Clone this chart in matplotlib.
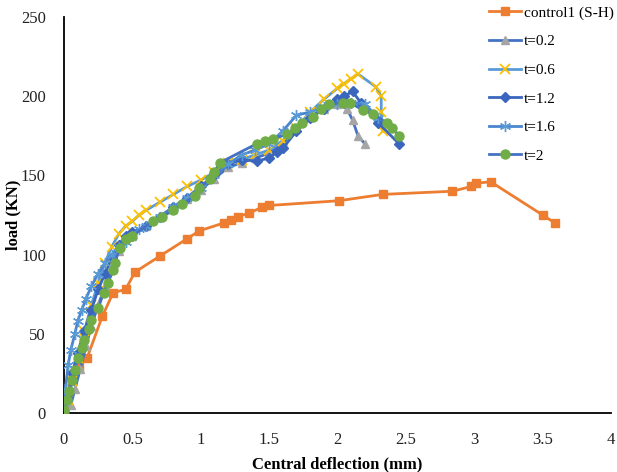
import matplotlib
matplotlib.use('Agg')
import matplotlib.pyplot as plt

# Data
ctrl_x = [0.0, 0.01, 0.06, 0.11, 0.17, 0.28, 0.36, 0.45, 0.52, 0.70, 0.90, 0.99, 1.17, 1.22, 1.27,
          1.35, 1.45, 1.50, 2.01, 2.33, 2.84, 2.98, 3.01, 3.12, 3.50, 3.59]
ctrl_y = [2, 10, 20, 29, 35, 61, 76, 78, 89, 99, 110, 115, 120, 122, 124,
          126, 130, 131, 134, 138, 140, 143, 145, 146, 125, 120]

t02_x = [0, 0.05, 0.08, 0.12, 0.16, 0.2, 0.25, 0.3, 0.35, 0.4, 0.5, 0.6, 0.7, 0.8, 0.9, 1.0, 1.1,
         1.2, 1.3, 1.4, 1.5, 1.6, 1.7, 1.8, 1.9, 2.0, 2.07, 2.11, 2.15, 2.2]
t02_y = [0, 5, 15, 28, 42, 55, 68, 80, 92, 102, 112, 118, 124, 129, 135, 141, 148,
         155, 158, 161, 164, 170, 180, 187, 192, 195, 192, 185, 175, 170]

t06_x = [0, 0.03, 0.06, 0.1, 0.15, 0.2, 0.25, 0.3, 0.35, 0.4, 0.45, 0.5, 0.55, 0.6, 0.7, 0.8, 0.9,
         1.0, 1.1, 1.2, 1.3, 1.4, 1.5, 1.6, 1.7, 1.8, 1.9, 2.0, 2.05, 2.1, 2.15, 2.28, 2.32, 2.32, 2.33]
t06_y = [0, 8, 20, 35, 52, 68, 82, 95, 105, 113, 118, 121, 125, 128, 133, 138, 143,
         147, 152, 158, 160, 163, 166, 172, 180, 190, 198, 205, 208, 211, 214, 206, 200, 190, 178]

t12_x = [0, 0.03, 0.06, 0.1, 0.15, 0.2, 0.25, 0.3, 0.35, 0.4, 0.45, 0.5, 0.6, 0.7, 0.8, 0.9, 1.0,
         1.1, 1.2, 1.3, 1.41, 1.5, 1.56, 1.6, 1.7, 1.8, 1.9, 2.0, 2.05, 2.11, 2.17, 2.3, 2.45]
t12_y = [0, 12, 25, 38, 52, 65, 78, 88, 98, 106, 112, 114, 118, 124, 130, 136, 143,
         150, 157, 160, 159, 161, 165, 167, 178, 186, 192, 198, 200, 203, 196, 183, 170]

t16_x = [0, 0.01, 0.03, 0.05, 0.08, 0.1, 0.13, 0.16, 0.2, 0.25, 0.3, 0.35, 0.4, 0.45, 0.5, 0.55,
         0.6, 0.7, 0.8, 0.9, 1.0, 1.1, 1.2, 1.3, 1.4, 1.5, 1.6, 1.7, 1.8, 1.9, 2.0, 2.1, 2.2, 2.3]
t16_y = [0, 15, 30, 40, 50, 58, 65, 72, 80, 88, 95, 100, 105, 108, 112, 116,
         118, 124, 130, 136, 142, 150, 157, 163, 166, 170, 178, 188, 190, 193, 195, 196, 195, 186]

t2_x = [0.0, 0.02, 0.04, 0.06, 0.08, 0.10, 0.13, 0.15, 0.18, 0.20, 0.25, 0.29, 0.32, 0.36, 0.37,
        0.41, 0.45, 0.50, 0.65, 0.72, 0.80, 0.86, 0.96, 0.99, 1.07, 1.10, 1.14, 1.41, 1.47, 1.53,
        1.63, 1.69, 1.74, 1.82, 1.88, 1.94, 2.04, 2.09, 2.19, 2.26, 2.36, 2.40, 2.45]
t2_y = [2, 8, 14, 21, 27, 35, 41, 46, 53, 59, 66, 76, 82, 90, 95,
        104, 110, 112, 121, 124, 128, 132, 137, 142, 148, 152, 158, 170, 172, 173,
        176, 180, 183, 187, 192, 195, 196, 196, 191, 189, 183, 180, 175]

plt.rcParams['font.family'] = ['Liberation Serif', 'DejaVu Serif']

fig = plt.figure(figsize=(6.17, 4.72), dpi=100)
ax = fig.add_axes([0.1037, 0.125, 0.8865, 0.839])

lw = 2.0
ax.plot(ctrl_x, ctrl_y, color='#ED7D31', lw=lw, marker='s', ms=6, mfc='#ED7D31', mec='#ED7D31',
        label='control1 (S-H)', zorder=2)
ax.plot(t02_x, t02_y, color='#4472C4', lw=lw, marker='^', ms=6, mfc='#A5A5A5', mec='#A5A5A5',
        label='t=0.2', zorder=3)
ax.plot(t06_x, t06_y, color='#5B9BD5', lw=lw, marker='x', ms=7, mew=1.3, mfc='#FFC000', mec='#FFC000',
        label='t=0.6', zorder=3)
ax.plot(t12_x, t12_y, color='#3A66BE', lw=lw, marker='D', ms=5, mfc='#3A66BE', mec='#3A66BE',
        label='t=1.2', zorder=3)
ax.plot(t16_x, t16_y, color='#4A86D0', lw=lw, marker=(6, 2, 0), ms=8, mew=1.0, mfc='#5B9BD5',
        mec='#5B9BD5', label='t=1.6', zorder=3)
ax.plot(t2_x, t2_y, color='#4472C4', lw=lw, marker='o', ms=6.5, mfc='#70AD47', mec='#70AD47',
        label='t=2', zorder=4)

ax.set_xlim(0, 4)
ax.set_ylim(0, 250)
ax.set_xticks([0, 0.5, 1, 1.5, 2, 2.5, 3, 3.5, 4])
ax.set_xticklabels(['0', '0.5', '1', '1.5', '2', '2.5', '3', '3.5', '4'])
ax.set_yticks([0, 50, 100, 150, 200, 250])
ax.tick_params(length=0, labelsize=12, colors='#222222', pad=14)
ax.tick_params(axis='y', pad=13)

for s in ['top', 'right']:
    ax.spines[s].set_visible(False)
for s in ['left', 'bottom']:
    ax.spines[s].set_linewidth(1.3)
    ax.spines[s].set_color('black')

ax.set_xlabel('Central deflection (mm)', fontsize=12, fontweight='bold', labelpad=6)
ax.set_ylabel('load (KN)', fontsize=12, fontweight='bold')
ax.yaxis.set_label_coords(-0.078, 0.5)

leg = fig.legend(loc='upper left', bbox_to_anchor=(0.783, 1.0), frameon=False, fontsize=11,
                 handlelength=2.1, handletextpad=0.15, labelspacing=0.97, borderaxespad=0)

fig.savefig('out.png', dpi=100)
